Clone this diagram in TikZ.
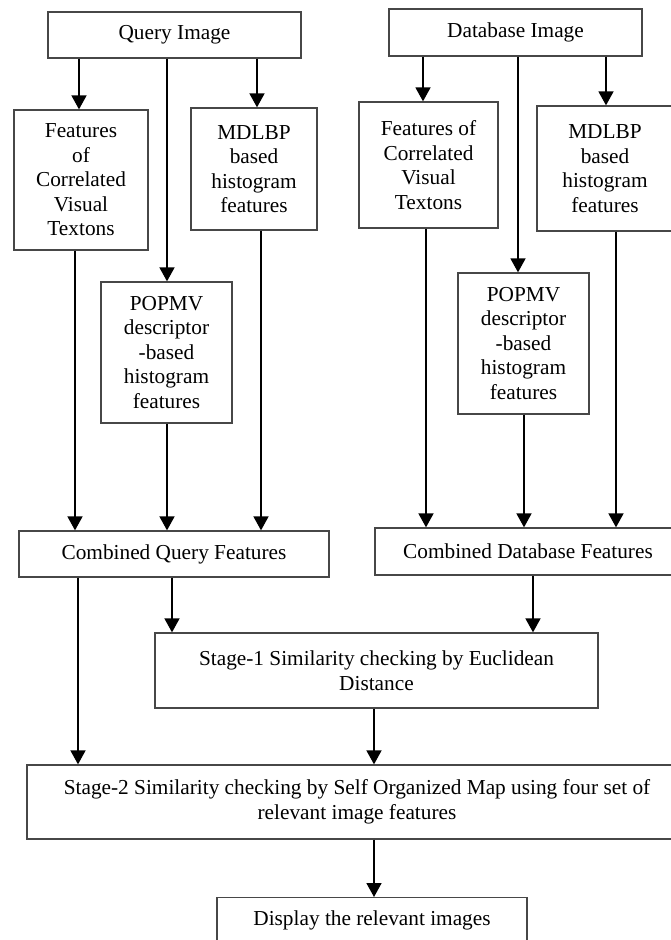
\documentclass[tikz,border=0pt]{standalone}
\usepackage{fontspec}
\setmainfont{Liberation Serif}
\usetikzlibrary{arrows.meta}
\begin{document}
\begin{tikzpicture}[x=1pt,y=-1pt,
  box/.style={draw=black!72,line width=1.3pt,fill=white,inner sep=2pt,align=center,
    font=\fontsize{21.3}{24.5}\selectfont},
  arr/.style={line width=1.7pt,-{Triangle[width=15pt,length=14pt]}}]
\clip (0,0) rectangle (671,940);
\fill[white] (0,0) rectangle (671,940);
% top boxes
\node[box,minimum width=253pt,minimum height=46pt] (qi) at (174.5,35) {Query Image};
\node[box,minimum width=253pt,minimum height=47pt] (db) at (515.5,32.5) {Database Image};
% query features
\node[box,minimum width=134pt,minimum height=140pt] (qf) at (81,180) {Features\\of\\Correlated\\Visual\\Textons};
\node[box,minimum width=126pt,minimum height=122pt] (qm) at (254,169) {MDLBP\\based\\histogram\\features};
\node[box,minimum width=131pt,minimum height=141pt] (qp) at (166.5,352.5) {POPMV\\descriptor\\-based\\histogram\\features};
% database features
\node[box,minimum width=139pt,minimum height=126pt] (df) at (428.5,165) {Features of\\Correlated\\Visual\\Textons};
\node[box,minimum width=136pt,minimum height=125pt] (dm) at (605,168.5) {MDLBP\\based\\histogram\\features};
\node[box,minimum width=131pt,minimum height=141pt] (dp) at (523.5,343.5) {POPMV\\descriptor\\-based\\histogram\\features};
% combined
\node[box,minimum width=310pt,minimum height=46pt] (cq) at (174,554) {Combined Query Features};
\node[box,minimum width=306pt,minimum height=47pt] (cd) at (528,551.5) {Combined Database Features};
% stages
\node[box,minimum width=443pt,minimum height=75pt] (s1) at (376.5,670.5) {Stage-1 Similarity checking by Euclidean\\Distance};
\node[box,minimum width=660pt,minimum height=74pt] (s2) at (357,802) {Stage-2 Similarity checking by Self Organized Map using four set of\\relevant image features};
\node[box,minimum width=310pt,minimum height=46pt,anchor=north] (dsp) at (372,897) {Display the relevant images};
% arrows from top
\draw[arr] (79,0|-qi.south) -- (79,0|-qf.north);
\draw[arr] (167,0|-qi.south) -- (167,0|-qp.north);
\draw[arr] (257,0|-qi.south) -- (257,0|-qm.north);
\draw[arr] (423,0|-db.south) -- (423,0|-df.north);
\draw[arr] (518,0|-db.south) -- (518,0|-dp.north);
\draw[arr] (606,0|-db.south) -- (606,0|-dm.north);
% arrows to combined
\draw[arr] (75,0|-qf.south) -- (75,0|-cq.north);
\draw[arr] (167,0|-qp.south) -- (167,0|-cq.north);
\draw[arr] (261,0|-qm.south) -- (261,0|-cq.north);
\draw[arr] (426,0|-df.south) -- (426,0|-cd.north);
\draw[arr] (524,0|-dp.south) -- (524,0|-cd.north);
\draw[arr] (616,0|-dm.south) -- (616,0|-cd.north);
% to stage 1
\draw[arr] (172,0|-cq.south) -- (172,0|-s1.north);
\draw[arr] (533,0|-cd.south) -- (533,0|-s1.north);
% to stage 2
\draw[arr] (78,0|-cq.south) -- (78,0|-s2.north);
\draw[arr] (374,0|-s1.south) -- (374,0|-s2.north);
% to display
\draw[arr] (374,0|-s2.south) -- (374,0|-dsp.north);
\end{tikzpicture}
\end{document}
